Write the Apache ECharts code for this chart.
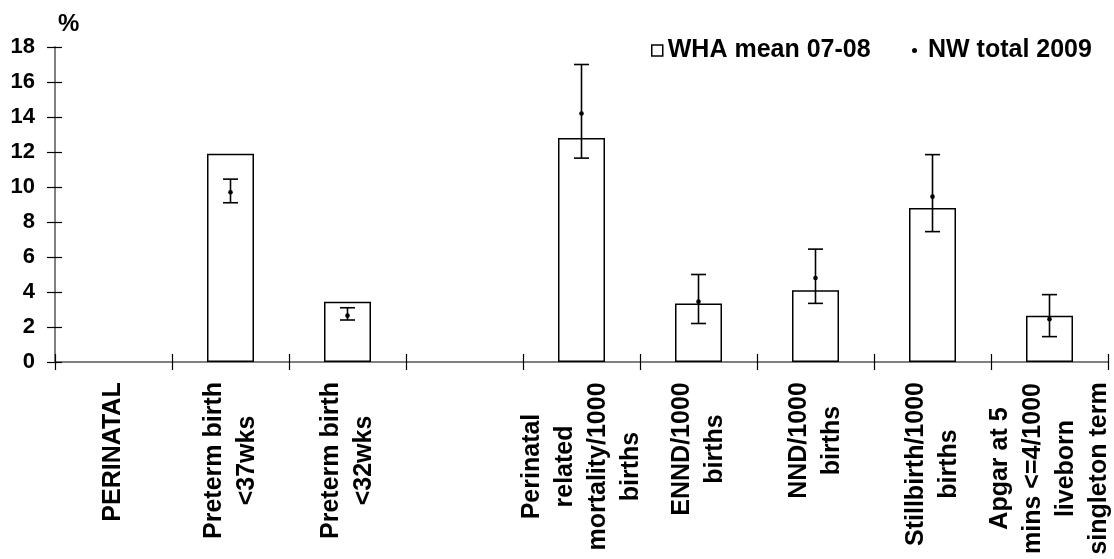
<!DOCTYPE html>
<html>
<head>
<meta charset="utf-8">
<script src="https://cdn.jsdelivr.net/npm/echarts@6/dist/echarts.min.js"></script>
<style>
html,body{margin:0;padding:0;background:#fff;}
#chart{width:1114px;height:559px;}
</style>
</head>
<body>
<div id="chart"></div>
<script>
const categories = [
  'PERINATAL',
  'Preterm birth\n<37wks',
  'Preterm birth\n<32wks',
  '',
  'Perinatal\nrelated\nmortality/1000\nbirths',
  'ENND/1000\nbirths',
  'NND/1000\nbirths',
  'Stillbirth/1000\nbirths',
  'Apgar at 5\nmins <=4/1000\nliveborn\nsingleton term'
];
const whaMean = [null, 11.9, 3.45, null, 12.8, 3.35, 4.1, 8.8, 2.65];
const nwTotal = [null, 9.7, 2.65, null, 14.2, 3.45, 4.8, 9.45, 2.45];
const nwLow   = [null, 9.1, 2.4, null, 11.65, 2.2, 3.35, 7.45, 1.45];
const nwHigh  = [null, 10.45, 3.1, null, 17.0, 5.0, 6.45, 11.85, 3.85];
const yMin = 0, yMax = 18, yStep = 2;

const FONT = '"Liberation Sans", Arial, sans-serif';
const LABEL_SIZE = 25;

// measure longest line per category for centred multi-line rotated labels
const ctx = document.createElement('canvas').getContext('2d');
ctx.font = 'bold ' + LABEL_SIZE + 'px ' + FONT;
const rich = {};
categories.forEach((c, i) => {
  const w = Math.max(1, ...c.split('\n').map(l => ctx.measureText(l).width));
  rich['c' + i] = {
    width: Math.ceil(w), align: 'center', fontSize: LABEL_SIZE, fontWeight: 'bold',
    fontFamily: FONT, color: '#000', lineHeight: 33
  };
});

const errData = [];
nwTotal.forEach((v, i) => {
  if (v != null) errData.push([i, nwLow[i], nwHigh[i], v]);
});

const chart = echarts.init(document.getElementById('chart'), null, {renderer: 'canvas'});
const axisLineStyle = {color: '#808080', width: 2};
const legendText = {fontSize: 25, fontWeight: 'bold', color: '#000', fontFamily: FONT};
chart.setOption({
  animation: false,
  backgroundColor: '#fff',
  textStyle: {fontFamily: FONT},
  grid: {left: 55, right: 6, top: 47, bottom: 197, containLabel: false},
  legend: [
    {
      data: [{name: 'WHA mean 07-08', icon: 'rect', itemStyle: {color: '#fff', borderColor: '#000', borderWidth: 1.5}}],
      left: 651, top: 38, padding: 0, itemWidth: 11, itemHeight: 11,
      textStyle: Object.assign({padding: [0, 0, 0, 0]}, legendText),
      selectedMode: false
    },
    {
      data: [{name: 'NW total 2009', icon: 'circle', itemStyle: {color: '#000'}}],
      left: 912, top: 38, padding: 0, itemWidth: 5, itemHeight: 5,
      textStyle: Object.assign({padding: [0, 0, 0, 6]}, legendText),
      selectedMode: false
    }
  ],
  xAxis: [
    {
      type: 'category', data: categories, position: 'bottom',
      axisLine: {show: true, lineStyle: axisLineStyle},
      axisTick: {show: true, length: 8, lineStyle: {color: '#000', width: 1.2}},
      axisLabel: {
        interval: 0, rotate: 90, margin: 20,
        formatter: function (value, index) {
          if (!value) return '';
          return value.split('\n').map(l => '{c' + index + '|' + l + '}').join('\n');
        },
        rich: rich
      },
      splitLine: {show: false}
    },
    {
      type: 'category', data: categories, position: 'bottom', offset: 0,
      axisLine: {show: false},
      axisTick: {show: true, inside: true, length: 8, lineStyle: {color: '#000', width: 1.2}},
      axisLabel: {show: false}, splitLine: {show: false}
    }
  ],
  yAxis: [
    {
      type: 'value', min: yMin, max: yMax, interval: yStep, position: 'left',
      name: '%', nameLocation: 'end', nameGap: 23,
      nameTextStyle: {fontSize: 24, fontWeight: 'bold', color: '#000', align: 'left', verticalAlign: 'middle', padding: [0, 0, 0, 3], fontFamily: FONT},
      axisLine: {show: true, lineStyle: axisLineStyle},
      axisTick: {show: true, length: 8, lineStyle: {color: '#000', width: 1.2}},
      axisLabel: {fontSize: 22, fontWeight: 'bold', color: '#000', margin: 20, fontFamily: FONT},
      splitLine: {show: false}
    },
    {
      type: 'value', min: yMin, max: yMax, interval: yStep, position: 'left', offset: 0,
      axisLine: {show: false},
      axisTick: {show: true, inside: true, length: 7, lineStyle: {color: '#000', width: 1.2}},
      axisLabel: {show: false}, splitLine: {show: false}
    }
  ],
  series: [
    {
      name: 'WHA mean 07-08', type: 'bar', data: whaMean, barWidth: 47,
      itemStyle: {color: '#fff', borderColor: '#000', borderWidth: 1.5},
      z: 2
    },
    {
      name: 'NW total 2009', type: 'custom', data: errData,
      itemStyle: {color: '#000'},
      encode: {x: 0, y: [1, 2, 3]},
      z: 5,
      renderItem: function (params, api) {
        const lo = api.coord([api.value(0), api.value(1)]);
        const hi = api.coord([api.value(0), api.value(2)]);
        const mid = api.coord([api.value(0), api.value(3)]);
        const cap = 7.5;
        const ls = {stroke: '#000', lineWidth: 1.6};
        return {
          type: 'group',
          children: [
            {type: 'line', shape: {x1: lo[0], y1: lo[1], x2: hi[0], y2: hi[1]}, style: ls},
            {type: 'line', shape: {x1: lo[0] - cap, y1: lo[1], x2: lo[0] + cap, y2: lo[1]}, style: ls},
            {type: 'line', shape: {x1: hi[0] - cap, y1: hi[1], x2: hi[0] + cap, y2: hi[1]}, style: ls},
            {type: 'circle', shape: {cx: mid[0], cy: mid[1], r: 2.3}, style: {fill: '#000'}}
          ]
        };
      }
    }
  ]
});
</script>
</body>
</html>
